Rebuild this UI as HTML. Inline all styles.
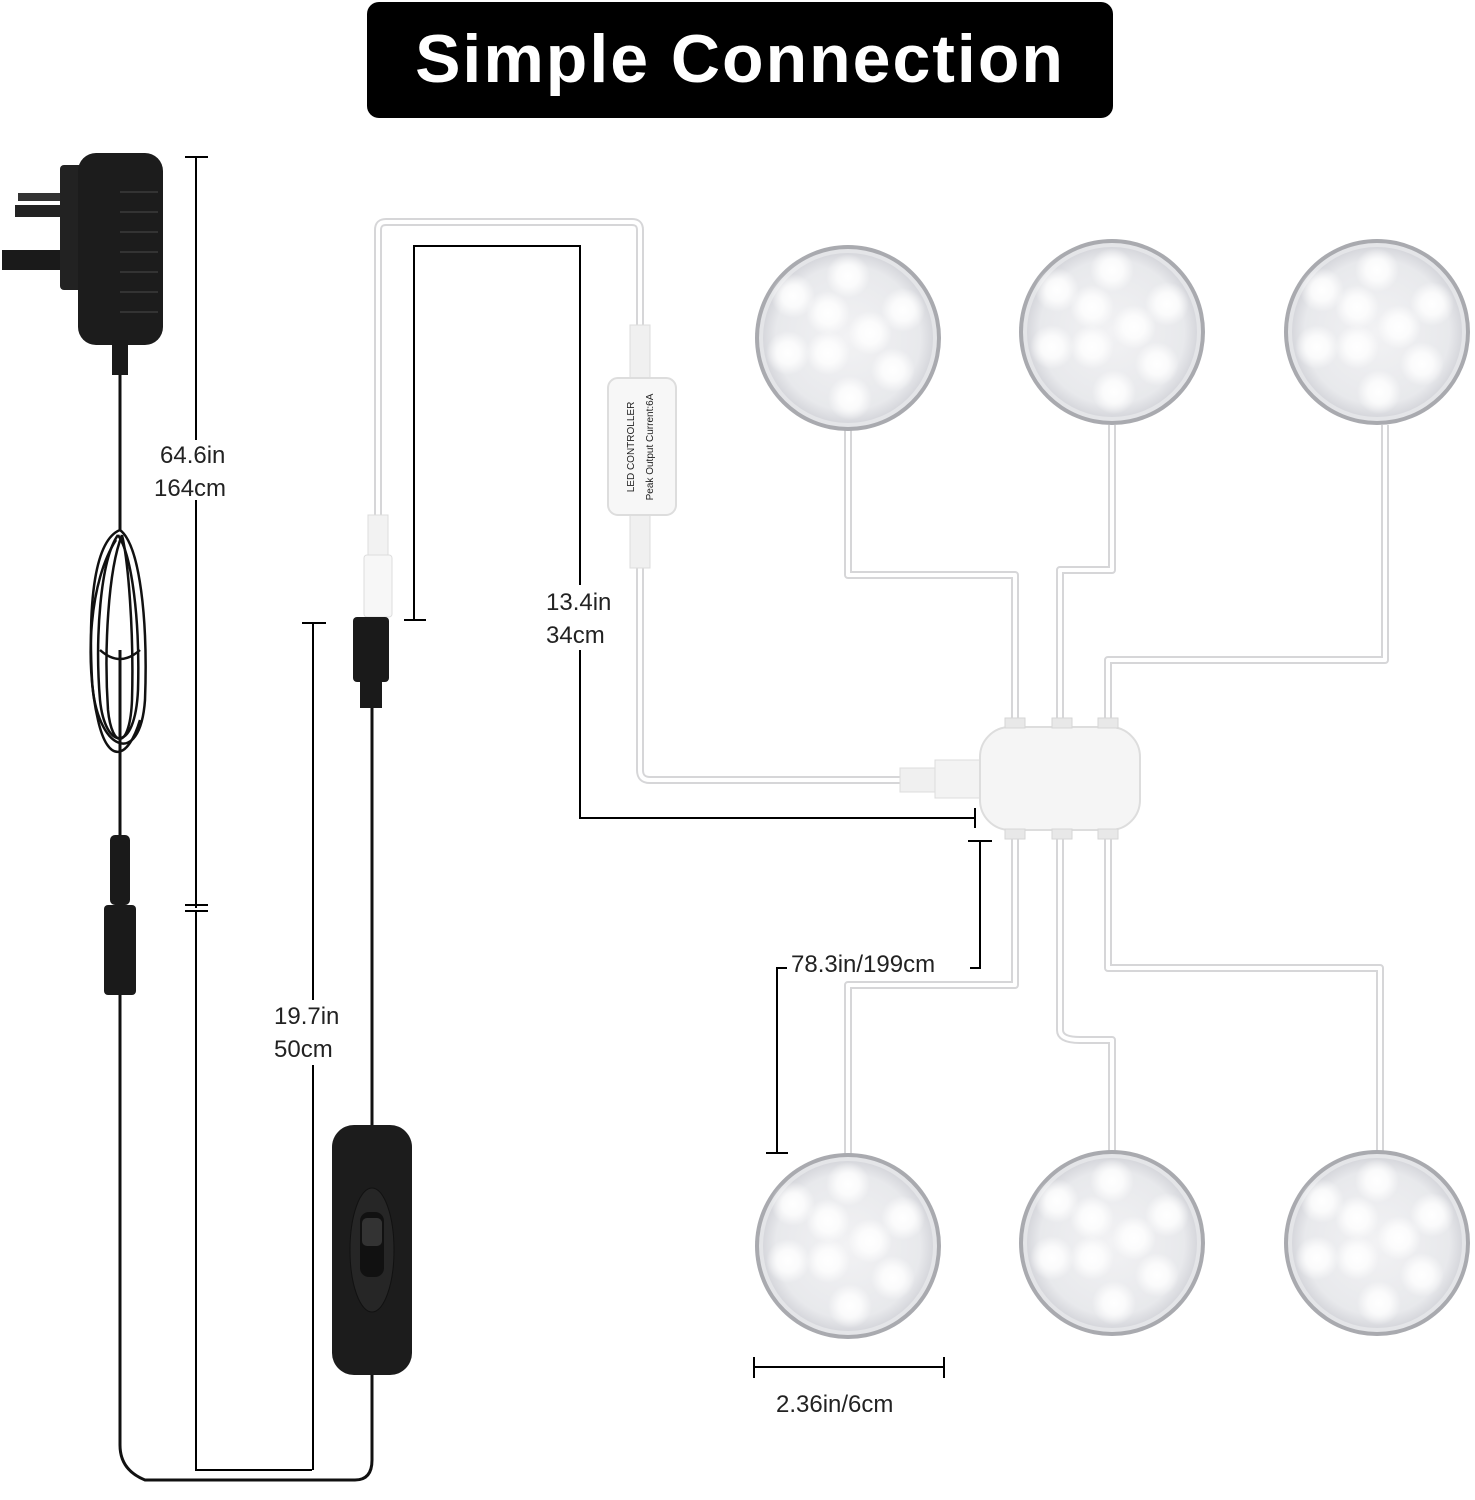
<!DOCTYPE html>
<html><head><style>
html,body{margin:0;padding:0;background:#fff;}
svg{display:block;}
text{font-family:"Liberation Sans",sans-serif;}
</style></head><body>
<svg width="1475" height="1500" viewBox="0 0 1475 1500" xmlns="http://www.w3.org/2000/svg">
<defs>
<radialGradient id="lg" cx="50%" cy="50%" r="50%">
<stop offset="0" stop-color="#f2f2f4"/><stop offset="0.85" stop-color="#e8e9ec"/><stop offset="1" stop-color="#d6d7dc"/>
</radialGradient>
<radialGradient id="led" cx="50%" cy="50%" r="50%">
<stop offset="0" stop-color="#fff"/><stop offset="0.5" stop-color="#fff" stop-opacity="0.8"/><stop offset="1" stop-color="#fff" stop-opacity="0"/>
</radialGradient>
<g id="light">
<circle r="93" fill="#a9aaaf"/>
<circle r="89" fill="#e4e5e8"/>
<circle r="85" fill="url(#lg)"/>
<circle cx="0" cy="-62" r="22" fill="url(#led)"/>
<circle cx="-55" cy="-42" r="22" fill="url(#led)"/>
<circle cx="-20" cy="-25" r="22" fill="url(#led)"/>
<circle cx="55" cy="-28" r="22" fill="url(#led)"/>
<circle cx="22" cy="-5" r="22" fill="url(#led)"/>
<circle cx="-60" cy="15" r="22" fill="url(#led)"/>
<circle cx="-20" cy="15" r="22" fill="url(#led)"/>
<circle cx="45" cy="32" r="22" fill="url(#led)"/>
<circle cx="2" cy="60" r="22" fill="url(#led)"/>
</g>
</defs>

<rect x="367" y="2" width="746" height="116" rx="12" fill="#000"/>
<text x="740" y="82" text-anchor="middle" fill="#fff" font-size="68" font-weight="bold" letter-spacing="2">Simple Connection</text>

<g fill="none" stroke-linejoin="round">
<g stroke="#d6d6d8" stroke-width="8">
<path d="M378 515 V230 Q378 222 386 222 H632 Q640 222 640 230 V330"/>
<path d="M640 565 V770 Q640 780 650 780 H900"/>
<path d="M848 430 V575 H1015 V720"/>
<path d="M1112 425 V570 H1060 V720"/>
<path d="M1385 425 V660 H1108 V720"/>
<path d="M1015 835 V985 H848 V1155"/>
<path d="M1060 835 V1030 Q1060 1040 1080 1040 H1112 V1155"/>
<path d="M1108 835 V968 H1380 V1155"/>
</g>
<g stroke="#fff" stroke-width="4">
<path d="M378 515 V230 Q378 222 386 222 H632 Q640 222 640 230 V330"/>
<path d="M640 565 V770 Q640 780 650 780 H900"/>
<path d="M848 430 V575 H1015 V720"/>
<path d="M1112 425 V570 H1060 V720"/>
<path d="M1385 425 V660 H1108 V720"/>
<path d="M1015 835 V985 H848 V1155"/>
<path d="M1060 835 V1030 Q1060 1040 1080 1040 H1112 V1155"/>
<path d="M1108 835 V968 H1380 V1155"/>
</g>
</g>

<use href="#light" x="848" y="338"/>
<use href="#light" x="1112" y="332"/>
<use href="#light" x="1377" y="332"/>
<use href="#light" x="848" y="1246"/>
<use href="#light" x="1112" y="1243"/>
<use href="#light" x="1377" y="1243"/>

<rect x="630" y="325" width="20" height="55" fill="#f0f0f0" stroke="#ddd"/>
<rect x="630" y="513" width="20" height="55" fill="#f0f0f0" stroke="#ddd"/>
<rect x="608" y="378" width="68" height="137" rx="10" fill="#f7f7f7" stroke="#ddd" stroke-width="2"/>
<text transform="translate(634,447) rotate(-90)" text-anchor="middle" font-size="10" fill="#222">LED CONTROLLER</text>
<text transform="translate(653,447) rotate(-90)" text-anchor="middle" font-size="10" fill="#222">Peak Output Current:6A</text>

<rect x="368" y="515" width="20" height="45" fill="#f2f2f2" stroke="#ddd"/>
<rect x="364" y="555" width="28" height="62" rx="3" fill="#f7f7f7" stroke="#ddd"/>

<rect x="900" y="768" width="40" height="24" fill="#f0f0f0" stroke="#ddd"/>
<rect x="935" y="760" width="45" height="38" fill="#f3f3f3" stroke="#ddd"/>
<rect x="980" y="727" width="160" height="103" rx="30" fill="#f5f5f5" stroke="#ddd" stroke-width="2"/>
<g fill="#e8e8e8" stroke="#d6d6d6"><rect x="1005" y="718" width="20" height="10"/><rect x="1052" y="718" width="20" height="10"/><rect x="1098" y="718" width="20" height="10"/>
<rect x="1005" y="829" width="20" height="10"/><rect x="1052" y="829" width="20" height="10"/><rect x="1098" y="829" width="20" height="10"/></g>

<g fill="none" stroke="#111" stroke-width="3">
<path d="M120 345 V530 M120 650 V840 M120 990 V1445 Q120 1470 145 1480 H355 Q372 1480 372 1460 V1375 M372 1125 V705"/>
</g>
<g fill="none" stroke="#111" stroke-width="2.5">
<path d="M120 530 C95 540 88 600 92 680 C96 750 140 770 145 700 C148 620 140 545 120 530"/>
<path d="M118 535 C100 560 95 640 100 700 C105 750 135 755 138 690 C140 620 132 555 118 535"/>
<path d="M122 535 C108 570 104 650 108 710 C112 750 130 750 132 700 C134 630 128 560 122 535"/>
<path d="M116 540 C90 580 84 660 98 720 C108 765 128 760 140 720"/>
<path d="M100 650 Q120 668 140 650"/>
</g>
<rect x="15" y="205" width="50" height="12" fill="#222"/>
<rect x="18" y="193" width="45" height="8" fill="#333"/>
<rect x="2" y="250" width="62" height="20" fill="#1a1a1a"/>
<rect x="60" y="165" width="45" height="125" rx="4" fill="#222"/>
<rect x="78" y="153" width="85" height="192" rx="18" fill="#1c1c1c"/>
<g stroke="#333" stroke-width="2"><line x1="120" y1="192" x2="158" y2="192"/><line x1="120" y1="212" x2="158" y2="212"/><line x1="120" y1="232" x2="158" y2="232"/><line x1="120" y1="252" x2="158" y2="252"/><line x1="120" y1="272" x2="158" y2="272"/><line x1="120" y1="292" x2="158" y2="292"/><line x1="120" y1="312" x2="158" y2="312"/></g>
<rect x="112" y="340" width="16" height="35" fill="#1a1a1a"/>
<rect x="110" y="835" width="20" height="70" rx="5" fill="#1a1a1a"/>
<rect x="104" y="905" width="32" height="90" rx="4" fill="#1a1a1a"/>
<rect x="353" y="617" width="36" height="65" rx="4" fill="#1a1a1a"/>
<rect x="360" y="680" width="22" height="28" fill="#1a1a1a"/>
<rect x="332" y="1125" width="80" height="250" rx="22" fill="#1c1c1c"/>
<ellipse cx="372" cy="1250" rx="22" ry="62" fill="#262626" stroke="#111"/>
<rect x="360" y="1212" width="24" height="65" rx="9" fill="#111"/>
<rect x="362" y="1218" width="20" height="28" rx="5" fill="#333"/>

<g stroke="#000" stroke-width="2" fill="none">
<path d="M185 157 H208 M196 157 V908 M185 905 H208 M185 911 H208 M196 911 V1470 H312 M313 1470 V623 M302 623 H326"/>
<path d="M404 620 H426 M414 620 V246 H580 V818 H975 M975 808 V828"/>
<path d="M968 841 H992 M980 841 V968 H970 M787 968 H777 V1153 M766 1153 H788"/>
<path d="M754 1357 V1378 M944 1357 V1378 M754 1367 H944"/>
</g>
<g fill="#fff"><rect x="150" y="440" width="90" height="60"/><rect x="268" y="1000" width="90" height="65"/><rect x="540" y="585" width="90" height="65"/></g>
<g font-size="24" fill="#222">
<text x="160" y="463">64.6in</text><text x="154" y="496">164cm</text>
<text x="274" y="1024">19.7in</text><text x="274" y="1057">50cm</text>
<text x="546" y="610">13.4in</text><text x="546" y="643">34cm</text>
<text x="791" y="972">78.3in/199cm</text>
<text x="776" y="1412">2.36in/6cm</text>
</g>
</svg>
</body></html>
